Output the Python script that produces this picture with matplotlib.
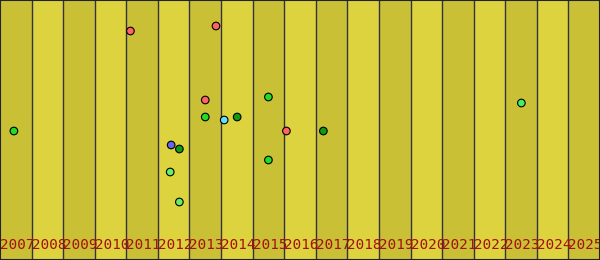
import matplotlib

matplotlib.use("Agg")
import matplotlib.pyplot as plt

# years shown as vertical bands
years = list(range(2007, 2026))

# events: fractional year, value, colour
event_x = [2007.44, 2011.13, 2013.84, 2013.50, 2013.50, 2014.51, 2014.10,
           2012.42, 2012.68, 2012.39, 2012.68, 2015.50, 2015.50, 2016.07,
           2017.24, 2023.51]
event_y = [129, 229, 234, 160, 143, 143, 140,
           115, 111, 88, 58, 163, 100, 129,
           129, 157]
event_color = ["#22dd22", "#ff6464", "#ff6464", "#ff6464", "#22dd22", "#119911", "#66ddff",
               "#6666ee", "#119911", "#66ee66", "#66ee66", "#22dd22", "#22dd22", "#ff6464",
               "#119911", "#44ee66"]

fig = plt.figure(figsize=(6, 2.6), dpi=100)
ax = fig.add_axes([0, 0, 1, 1])
ax.set_xlim(years[0], years[-1] + 1)
ax.set_ylim(0, 260)

for i, yr in enumerate(years):
    band = "#c9c036" if i % 2 == 0 else "#ddd33e"
    ax.axvspan(yr, yr + 1, color=band, lw=0, zorder=0)
    if i > 0:
        ax.axvline(yr, color="#333340", lw=1.0, zorder=1)
    # last label runs off the right edge, as in the original
    ax.text(yr, 15, str(yr), ha="left", va="center", fontsize=10.3,
            family="DejaVu Sans Mono", color="#a51010", zorder=2)

ax.scatter(event_x, event_y, s=30, c=event_color, edgecolors="black",
           linewidths=0.8, zorder=3)

ax.set_xticks([])
ax.set_yticks([])
for side in ax.spines.values():
    side.set_color("#222222")
    side.set_linewidth(1.5)

fig.savefig("out.png", dpi=100)
